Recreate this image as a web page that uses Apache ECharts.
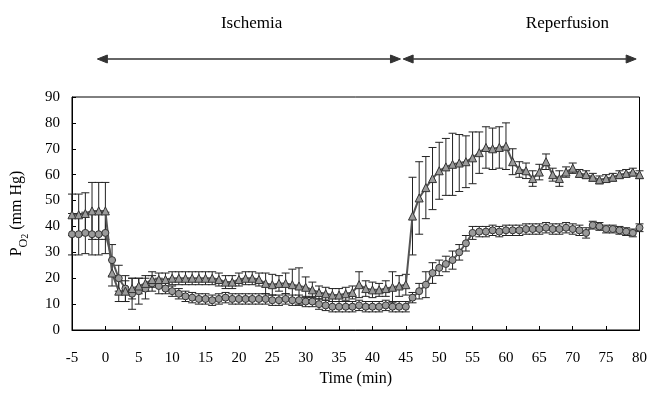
<!DOCTYPE html>
<html>
<head>
<meta charset="utf-8">
<script src="https://cdn.jsdelivr.net/npm/echarts@6/dist/echarts.min.js"></script>
<style>
  html, body { margin: 0; padding: 0; background: #fff; }
  #chart { width: 650px; height: 401px; }
</style>
</head>
<body>
<div id="chart"></div>
<script>
// time points (min)
var time = [-5, -4, -3, -2, -1, 0, 1, 2, 3, 4, 5, 6, 7, 8, 9, 10, 11, 12, 13, 14, 15, 16, 17, 18, 19, 20,
  21, 22, 23, 24, 25, 26, 27, 28, 29, 30, 31, 32, 33, 34, 35, 36, 37, 38, 39, 40, 41, 42, 43, 44, 45,
  46, 47, 48, 49, 50, 51, 52, 53, 54, 55, 56, 57, 58, 59, 60, 61, 62, 63, 64, 65, 66, 67, 68, 69, 70,
  71, 72, 73, 74, 75, 76, 77, 78, 79, 80];

// triangle series (upper) mean and SD
var triMean = [44.5, 44.5, 45, 46, 46, 46, 22, 15, 15, 16, 17, 18, 19.5, 19.5, 19.5, 20, 20, 20, 20, 20, 20,
  20, 19.5, 18.5, 18.5, 19.5, 20, 20, 19.5, 18, 17.5, 18, 18, 17.5, 17, 16.5, 15.5, 14.5, 14, 13.5, 13.5,
  14, 14.5, 17.5, 16, 15.5, 15.5, 16, 16.5, 17, 17.5,
  44, 51, 55, 58.5, 61.5, 63, 64, 64.5, 65, 66.5, 68.5, 70.5, 70, 70.5, 71, 65, 62, 61.5, 58.5, 61,
  65, 60, 58.5, 61, 62.5, 60.5, 60, 59, 58, 58.5, 59, 60, 60.5, 61, 60];
var triSd = [8, 8, 8, 11, 11, 11, 5, 4, 4, 4, 3, 3, 3, 2.5, 2.5, 2.5, 2.5, 2.5, 2.5, 2.5, 2.5,
  2.5, 2.5, 2.5, 2.5, 2.5, 2.5, 2.5, 2.5, 4, 4, 3, 4, 6, 7, 4, 3, 2.5, 2.5, 2.5, 2.5,
  2.5, 2.5, 5, 3, 3, 2.5, 3, 6, 4, 4,
  15, 14, 12, 12, 11, 11, 12, 11, 10, 10, 8, 8, 8, 8, 9, 5, 3, 3, 3, 3,
  3, 2.5, 3, 2, 2, 1.5, 1.5, 1.5, 1.5, 1.5, 1.5, 1.5, 1.5, 1.5, 1.5];

// circle series (lower) mean and SD
var cirMean = [37, 37, 37.5, 37, 37, 37.5, 27, 20, 16, 14, 15, 16, 18, 17, 16, 15, 14, 13, 12.5, 12, 12,
  11.5, 12, 12.5, 12, 12, 12, 12, 12, 12, 11.5, 11.5, 12, 11.5, 11.5, 11, 11, 10, 9.5, 9, 9,
  9, 9, 9.5, 9, 9, 9, 9.5, 9, 9, 9,
  12.5, 15, 17.5, 22, 24, 25.5, 27, 30, 33.5, 37.5, 38, 38, 38.5, 38, 38.5, 38.5, 38.5, 39, 39, 39,
  39.5, 39, 39, 39.5, 39, 38.5, 37.5, 40.5, 40, 39, 39, 38.5, 38, 37.5, 39.5];
var cirSd = [8, 8, 8, 8, 8, 8, 6, 5, 5, 6, 5, 4, 3, 3, 2, 2, 2, 2, 2, 2, 2,
  2, 2, 2, 2, 2, 2, 2, 2, 2, 2, 2, 2, 2, 2, 2, 2, 2, 2, 2, 2,
  2, 2, 2, 2, 2, 2, 2, 2, 2, 2,
  2, 3, 5, 4, 3, 3, 3.5, 3, 3, 2.5, 2, 2, 2, 2, 2, 2, 2, 2, 2, 2,
  2, 2, 2, 2, 2, 2, 2, 1.5, 1.5, 1.5, 1.5, 1.5, 1.5, 1.5, 1.5];

var xTicks = { min: -5, max: 80, interval: 5 };
var yTicks = { min: 0, max: 90, interval: 10 };

// phase annotations (in minutes)
var phases = [
  { name: 'Ischemia', from: -1.2, to: 44.2, labelAt: 21.9 },
  { name: 'Reperfusion', from: 44.6, to: 79.5, labelAt: 69.2 }
];

var FONT = '"Liberation Serif", "DejaVu Serif", serif';

function pairs(mean) {
  return time.map(function (t, i) { return [t, mean[i]]; });
}
function bars(mean, sd) {
  return time.map(function (t, i) { return [t, mean[i] - sd[i], mean[i] + sd[i]]; });
}

function errorBar(params, api) {
  var lo = api.coord([api.value(0), api.value(1)]);
  var hi = api.coord([api.value(0), api.value(2)]);
  var cap = 4;
  var st = { stroke: '#222', lineWidth: 1 };
  return {
    type: 'group',
    children: [
      { type: 'line', shape: { x1: lo[0], y1: lo[1], x2: hi[0], y2: hi[1] }, style: st },
      { type: 'line', shape: { x1: hi[0] - cap, y1: hi[1], x2: hi[0] + cap, y2: hi[1] }, style: st },
      { type: 'line', shape: { x1: lo[0] - cap, y1: lo[1], x2: lo[0] + cap, y2: lo[1] }, style: st }
    ]
  };
}

var chart = echarts.init(document.getElementById('chart'));

chart.setOption({
  animation: false,
  backgroundColor: '#fff',
  textStyle: { fontFamily: FONT, color: '#000' },
  grid: {
    left: 72, right: 10, top: 97, bottom: 71,
    show: true, borderColor: '#000', borderWidth: 1
  },
  xAxis: {
    type: 'value',
    min: xTicks.min, max: xTicks.max, interval: xTicks.interval,
    name: 'Time (min)',
    nameLocation: 'middle',
    nameGap: 41,
    nameTextStyle: { fontFamily: FONT, fontSize: 16, color: '#000' },
    axisLine: { onZero: false, lineStyle: { color: '#000', width: 1 } },
    axisTick: { inside: true, length: 4, lineStyle: { color: '#000' } },
    axisLabel: { fontFamily: FONT, fontSize: 15, color: '#000', margin: 21 },
    splitLine: { show: false }
  },
  yAxis: {
    type: 'value',
    min: yTicks.min, max: yTicks.max, interval: yTicks.interval,
    name: '{p|P}{o|O}{s|2}{p| (mm Hg)}',
    nameLocation: 'middle',
    nameRotate: 90,
    nameGap: 42,
    nameTextStyle: {
      fontFamily: FONT, color: '#000',
      rich: {
        p: { fontFamily: FONT, fontSize: 16, lineHeight: 22, color: '#000' },
        o: { fontFamily: FONT, fontSize: 12, lineHeight: 22, verticalAlign: 'bottom', color: '#000' },
        s: { fontFamily: FONT, fontSize: 10, lineHeight: 26, verticalAlign: 'bottom', color: '#000' }
      }
    },
    axisLine: { show: true, onZero: false, lineStyle: { color: '#000', width: 1 } },
    axisTick: { show: true, inside: true, length: 4, lineStyle: { color: '#000' } },
    axisLabel: { fontFamily: FONT, fontSize: 15, color: '#000', margin: 12 },
    splitLine: { show: false }
  },
  series: [
    {
      type: 'custom',
      renderItem: errorBar,
      data: bars(cirMean, cirSd),
      encode: { x: 0, y: [1, 2] },
      z: 1
    },
    {
      type: 'custom',
      renderItem: errorBar,
      data: bars(triMean, triSd),
      encode: { x: 0, y: [1, 2] },
      z: 1
    },
    {
      type: 'line',
      data: pairs(cirMean),
      symbol: 'circle',
      symbolSize: 7,
      showAllSymbol: true,
      lineStyle: { color: '#555', width: 2 },
      itemStyle: { color: '#9a9a9a', borderColor: '#333', borderWidth: 1 },
      z: 3
    },
    {
      type: 'line',
      data: pairs(triMean),
      symbol: 'triangle',
      symbolSize: 8,
      showAllSymbol: true,
      lineStyle: { color: '#555', width: 2 },
      itemStyle: { color: '#9a9a9a', borderColor: '#333', borderWidth: 1 },
      z: 3
    }
  ]
});

// phase arrows and labels above the plot
var arrowY = 59;
var labelY = 24;
var head = 10;
var half = 4;
var graphics = [];
phases.forEach(function (p) {
  var x1 = chart.convertToPixel({ xAxisIndex: 0 }, p.from);
  var x2 = chart.convertToPixel({ xAxisIndex: 0 }, p.to);
  var xl = chart.convertToPixel({ xAxisIndex: 0 }, p.labelAt);
  graphics.push({
    type: 'line',
    shape: { x1: x1 + head, y1: arrowY, x2: x2 - head, y2: arrowY },
    style: { stroke: '#333', lineWidth: 1.5 }
  });
  graphics.push({
    type: 'polygon',
    shape: { points: [[x1, arrowY], [x1 + head, arrowY - half], [x1 + head, arrowY + half]] },
    style: { fill: '#333', stroke: '#333' }
  });
  graphics.push({
    type: 'polygon',
    shape: { points: [[x2, arrowY], [x2 - head, arrowY - half], [x2 - head, arrowY + half]] },
    style: { fill: '#333', stroke: '#333' }
  });
  graphics.push({
    type: 'text',
    x: xl, y: labelY,
    style: {
      text: p.name, fontFamily: FONT, fontSize: 17, fill: '#000',
      align: 'center', verticalAlign: 'middle'
    }
  });
});
chart.setOption({ graphic: graphics });
</script>
</body>
</html>
